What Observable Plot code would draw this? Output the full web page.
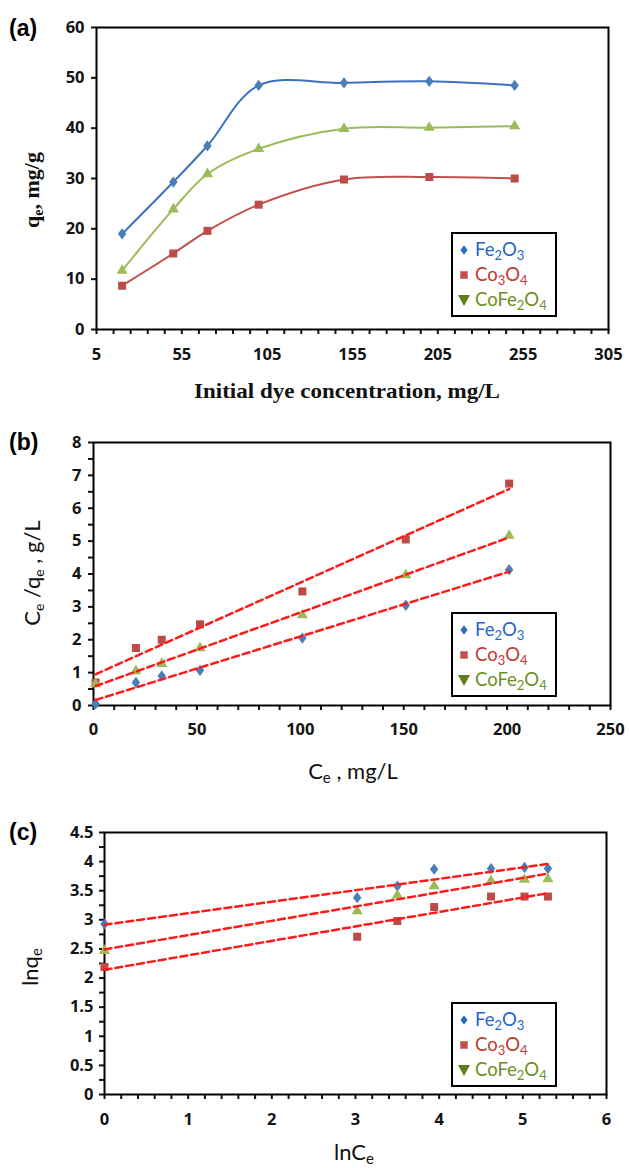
<!DOCTYPE html>
<html>
<head>
<meta charset="utf-8">
<script src="https://cdn.jsdelivr.net/npm/d3@7"></script>
<script src="https://cdn.jsdelivr.net/npm/@observablehq/plot@0.6"></script>
<style>
  html, body { margin: 0; padding: 0; background: #fff; }
  #page { position: relative; width: 629px; height: 1168px; overflow: hidden; background: #fff; }
  #page svg { position: absolute; left: 0; }
</style>
</head>
<body>
<div id="page"></div>
<script>
// ---- series ----
const seriesNames = ["Fe2O3", "Co3O4", "CoFe2O4"];

// (a) adsorption capacity vs initial dye concentration
const initialConc = [20, 50, 70, 100, 150, 200, 250];
const qeFe2O3   = [19.0, 29.3, 36.5, 48.5, 49.0, 49.3, 48.5];
const qeCo3O4   = [8.7, 15.1, 19.6, 24.8, 29.8, 30.3, 30.0];
const qeCoFe2O4 = [11.7, 23.9, 30.9, 35.9, 39.9, 40.1, 40.4];

// (b) Langmuir: Ce/qe vs Ce
const ceValues     = [1, 20.5, 33, 51.5, 101, 151, 201];
const ceqeFe2O3    = [0.05, 0.70, 0.90, 1.07, 2.05, 3.05, 4.13];
const ceqeCo3O4    = [0.70, 1.75, 2.00, 2.47, 3.47, 5.05, 6.75];
const ceqeCoFe2O4  = [0.65, 1.05, 1.27, 1.75, 2.75, 3.97, 5.17];

// (c) Freundlich: ln qe vs ln Ce
const lnCe         = [0, 3.02, 3.50, 3.94, 4.62, 5.02, 5.30];
const lnqeFe2O3    = [2.93, 3.38, 3.58, 3.87, 3.88, 3.90, 3.88];
const lnqeCo3O4    = [2.19, 2.71, 2.98, 3.22, 3.40, 3.40, 3.40];
const lnqeCoFe2O4  = [2.47, 3.15, 3.42, 3.58, 3.67, 3.69, 3.70];

// ---- tick labels ----
const xTicksA = [5, 55, 105, 155, 205, 255, 305];
const yTicksA = [0, 10, 20, 30, 40, 50, 60];
const xTicksB = [0, 50, 100, 150, 200, 250];
const yTicksB = [0, 1, 2, 3, 4, 5, 6, 7, 8];
const xTicksC = [0, 1, 2, 3, 4, 5, 6];
const yTicksC = [0, 0.5, 1, 1.5, 2, 2.5, 3, 3.5, 4, 4.5];

// ---- styling ----
const lineColors   = ["#3f6fbf", "#c0504d", "#9bbb59"];
const markerColors = ["#4a7ebb", "#be4b48", "#9bbb59"];
const legendText   = ["#2466c9", "#c0392f", "#6d8e25"];
const legendMarker = ["#2c6bc4", "#c0504d", "#5f7f1f"];
const sansFont  = "Lato, 'Open Sans', sans-serif";
const tickFont  = "'Open Sans', 'Liberation Sans', sans-serif";
const serifFont = "'Liberation Serif', 'DejaVu Serif', serif";

// slightly elongated diamond, as used for the Fe2O3 markers
const tallDiamond = {
  draw(ctx, size) {
    const h = Math.sqrt(size / 1.5);
    const w = h * 0.75;
    ctx.moveTo(0, -h); ctx.lineTo(w, 0); ctx.lineTo(0, h); ctx.lineTo(-w, 0); ctx.closePath();
  }
};
const markerSymbols = [tallDiamond, "square2", "triangle2"];

function rows(xs, ...ys) {
  const out = [];
  ys.forEach((col, i) => col.forEach((v, j) => out.push({series: seriesNames[i], x: xs[j], y: v})));
  return out;
}
const dataA = rows(initialConc, qeFe2O3, qeCo3O4, qeCoFe2O4);
const dataB = rows(ceValues, ceqeFe2O3, ceqeCo3O4, ceqeCoFe2O4);
const dataC = rows(lnCe, lnqeFe2O3, lnqeCo3O4, lnqeCoFe2O4);

const page = document.getElementById("page");

function axes(xMajor, xMinor, yMajor, yMinor, xPad, yPad) {
  const numerals = {label: null, tickFormat: d => String(d), fontFamily: tickFont, fontSize: 16.5, fontWeight: 700, fill: "#141414"};
  return [
    Plot.axisX(xMinor, {tickSize: 5, strokeWidth: 2, tickFormat: () => "", label: null}),
    Plot.axisX(xMajor, {tickSize: 0, tickPadding: xPad, ...numerals}),
    Plot.axisY(yMinor, {tickSize: 5, strokeWidth: 2, tickFormat: () => "", label: null}),
    Plot.axisY(yMajor, {tickSize: 0, tickPadding: yPad, ...numerals}),
    Plot.frame({stroke: "#000", strokeWidth: 2})
  ];
}

// heavier tick numerals, applied to the text Plot generated for the axes
function boldTicks(svg) {
  d3.select(svg).selectAll("text")
    .attr("font-family", tickFont)
    .attr("font-weight", 700)
    .style("font-family", tickFont)
    .style("font-size", "16.5px")
    .style("font-weight", "700")
    .style("fill", "#141414");
}

const dotMarks = data => [
  Plot.dot(data.filter(d => d.series === "Fe2O3"), {x: "x", y: "y", symbol: "series", fill: "series", r: 3.9}),
  Plot.dot(data.filter(d => d.series === "Co3O4"), {x: "x", y: "y", symbol: "series", fill: "series", r: 5.1}),
  Plot.dot(data.filter(d => d.series === "CoFe2O4"), {x: "x", y: "y", symbol: "series", fill: "series", r: 5.3})
];

const scales = {
  color: {domain: seriesNames, range: markerColors},
  symbol: {domain: seriesNames, range: markerSymbols}
};

function richText(sel, parts, size, subSize, shiftPx) {
  let cur = 0;
  for (const [t, sub] of parts) {
    const ts = sel.append("tspan").text(t);
    const target = sub ? shiftPx : 0;
    if (target !== cur) ts.attr("dy", target - cur);
    cur = target;
    ts.attr("font-size", (sub ? subSize : size) + "px");
  }
  return sel;
}

function addLegend(svg, left, top) {
  const g = d3.select(svg).append("g").attr("text-anchor", "start");
  g.append("rect").attr("x", left).attr("y", top).attr("width", 104).attr("height", 83)
    .attr("fill", "#fff").attr("stroke", "#000").attr("stroke-width", 2);
  const labels = [
    [["Fe"], ["2", true], ["O"], ["3", true]],
    [["Co"], ["3", true], ["O"], ["4", true]],
    [["CoFe"], ["2", true], ["O"], ["4", true]]
  ];
  const legendSymbols = [
    d3.symbol().type(tallDiamond).size(34),
    d3.symbol().type(d3.symbolSquare).size(56)
  ];
  labels.forEach((parts, i) => {
    const cy = top + 17 + i * 25;
    if (i < 2) {
      g.append("path").attr("d", legendSymbols[i]()).attr("transform", `translate(${left + 12},${cy})`)
        .attr("fill", legendMarker[i]);
    } else {
      // downward triangle marker
      g.append("path").attr("d", d3.line()([[-6, -5], [6, -5], [0, 6]]) + "Z")
        .attr("transform", `translate(${left + 12},${cy})`).attr("fill", legendMarker[i]);
    }
    const t = g.append("text").attr("x", left + 23).attr("y", cy + 6)
      .attr("text-anchor", "start")
      .attr("font-family", sansFont).attr("fill", legendText[i]);
    richText(t, parts, 18.5, 13, 4);
  });
}

function addPanelLabel(svg, label, y) {
  d3.select(svg).append("text").attr("x", 9).attr("y", y).attr("text-anchor", "start")
    .attr("font-family", "'Liberation Sans', Arial, sans-serif").attr("font-weight", "bold")
    .attr("font-size", "23px").attr("fill", "#000").text(label);
}

// ---------- (a) ----------
const svgA = Plot.plot({
  width: 629, height: 410,
  marginTop: 27, marginBottom: 81, marginLeft: 96, marginRight: 21,
  style: {background: "#fff", color: "#111", overflow: "visible"},
  x: {domain: [5, 305]},
  y: {domain: [0, 60]},
  ...scales,
  marks: [
    ...axes(xTicksA, d3.range(5, 306, 10), yTicksA, yTicksA, 19, 12),
    Plot.line(dataA, {x: "x", y: "y", z: "series", stroke: d => lineColors[seriesNames.indexOf(d.series)],
      curve: "catmull-rom", strokeWidth: 2}),
    ...dotMarks(dataA)
  ]
});
svgA.style.top = "0px";
page.appendChild(svgA);
boldTicks(svgA);
addPanelLabel(svgA, "(a)", 36);
addLegend(svgA, 452, 233);
{
  const s = d3.select(svgA);
  const yl = s.append("text").attr("transform", "translate(39,190) rotate(-90)").attr("text-anchor", "middle")
    .attr("font-family", serifFont).attr("font-weight", "bold").attr("fill", "#111");
  richText(yl, [["q"], ["e", true], [", mg/g"]], 22, 14, 4);
  s.append("text").attr("x", 347).attr("y", 398).attr("text-anchor", "middle")
    .attr("font-family", serifFont).attr("font-weight", "bold").attr("font-size", "21px").attr("fill", "#111")
    .attr("textLength", 306).attr("lengthAdjust", "spacingAndGlyphs")
    .text("Initial dye concentration, mg/L");
}

// ---------- (b) ----------
const regStyle = {x: "x", y: "y", z: "series", stroke: "#ff1a1a", strokeWidth: 2.5, strokeDasharray: "7,4", ci: 0};
const svgB = Plot.plot({
  width: 629, height: 380,
  marginTop: 32, marginBottom: 85, marginLeft: 93, marginRight: 19,
  style: {background: "#fff", color: "#111", overflow: "visible"},
  x: {domain: [0, 250]},
  y: {domain: [0, 8]},
  ...scales,
  marks: [
    ...axes(xTicksB, d3.range(0, 251, 10), yTicksB, d3.range(0, 8.01, 0.5), 18, 12),
    ...dotMarks(dataB),
    Plot.linearRegressionY(dataB, regStyle)
  ]
});
svgB.style.top = "410px";
page.appendChild(svgB);
boldTicks(svgB);
addPanelLabel(svgB, "(b)", 40);
addLegend(svgB, 452, 203);
{
  const s = d3.select(svgB);
  const yl = s.append("text").attr("transform", "translate(40,163) rotate(-90)").attr("text-anchor", "middle")
    .attr("font-family", sansFont).attr("fill", "#111");
  richText(yl, [["C"], ["e", true], [" /q"], ["e", true], [" , g/L"]], 22, 14, 4);
  const xl = s.append("text").attr("x", 353).attr("y", 369).attr("text-anchor", "middle")
    .attr("font-family", sansFont).attr("fill", "#111");
  richText(xl, [["C"], ["e", true], [" , mg/L"]], 22, 15, 4);
}

// ---------- (c) ----------
const svgC = Plot.plot({
  width: 629, height: 378,
  marginTop: 42, marginBottom: 74, marginLeft: 104, marginRight: 23,
  style: {background: "#fff", color: "#111", overflow: "visible"},
  x: {domain: [0, 6]},
  y: {domain: [0, 4.5]},
  ...scales,
  marks: [
    ...axes(xTicksC, d3.range(0, 6.01, 0.2), yTicksC, d3.range(0, 4.51, 0.25), 19, 11),
    ...dotMarks(dataC),
    Plot.linearRegressionY(dataC, regStyle)
  ]
});
svgC.style.top = "790px";
page.appendChild(svgC);
boldTicks(svgC);
addPanelLabel(svgC, "(c)", 50);
addLegend(svgC, 452, 213);
{
  const s = d3.select(svgC);
  const yl = s.append("text").attr("transform", "translate(38,177) rotate(-90)").attr("text-anchor", "middle")
    .attr("font-family", sansFont).attr("fill", "#111");
  richText(yl, [["lnq"], ["e", true]], 22, 15, 4);
  const xl = s.append("text").attr("x", 354).attr("y", 370).attr("text-anchor", "middle")
    .attr("font-family", sansFont).attr("fill", "#111");
  richText(xl, [["lnC"], ["e", true]], 22, 15, 4);
}
</script>
</body>
</html>
